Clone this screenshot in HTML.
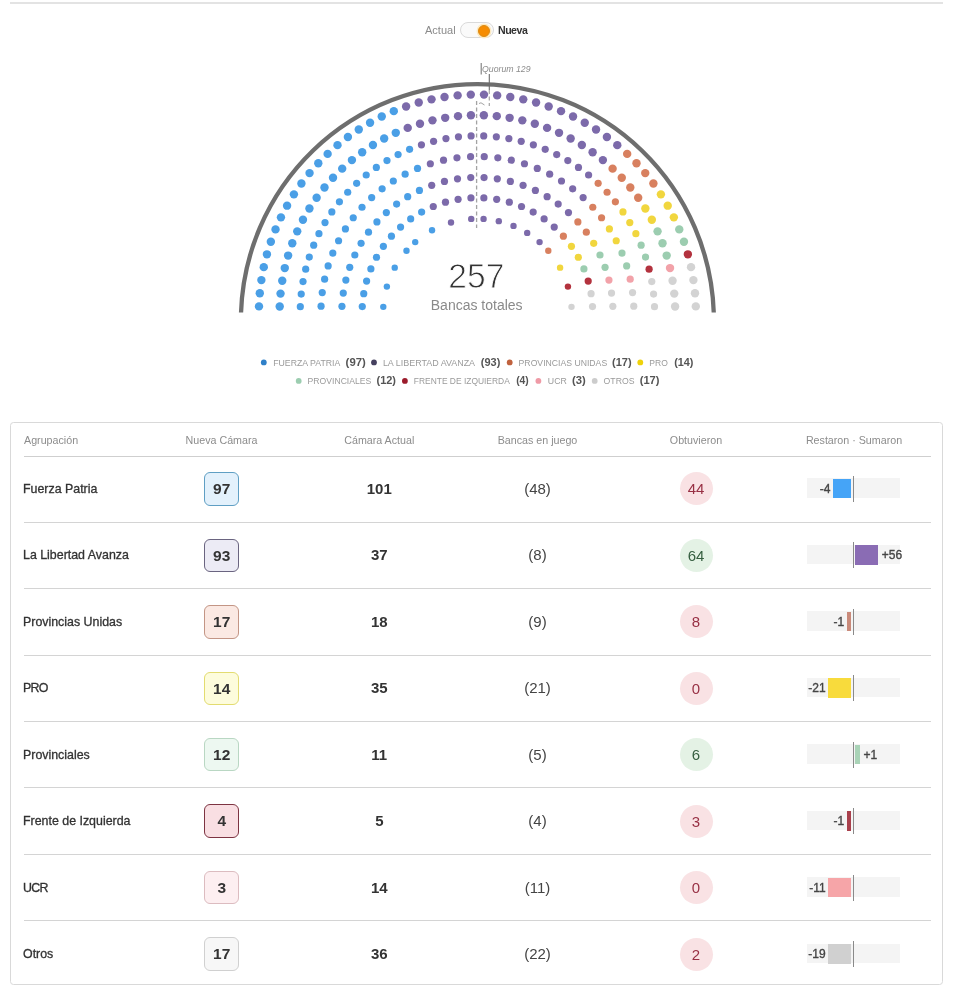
<!DOCTYPE html>
<html lang="es">
<head>
<meta charset="utf-8">
<title>Cámara de Diputados</title>
<style>
*{box-sizing:border-box;margin:0;padding:0}
html,body{width:968px;height:992px;background:#fff;overflow:hidden}
body{position:relative;font-family:"Liberation Sans",Arial,sans-serif;color:#333}
.abs{position:absolute}
.topline{left:10px;top:2px;width:933px;height:2px;background:#e3e3e3}
.tg-lbl{top:23px;font-size:11px;line-height:14px;color:#8a8a8a}
.tg-nv{letter-spacing:-0.5px;font-size:10.6px}
.tg-track{left:460.3px;top:22.2px;width:33.4px;height:16.2px;border:1px solid #dadada;border-radius:8.1px;background:#fafafa}
.tg-knob{left:477.8px;top:24.5px;width:12.2px;height:12.2px;border-radius:50%;background:#f68c00;border:1px solid #dc8a12;box-shadow:0 0 0 1.5px #fdeac2}
.chart{left:0;top:0}
.big{font-weight:300}
.legend{left:0;width:954px;text-align:center;font-size:8.6px;line-height:12px;color:#999;white-space:nowrap}
.legend span.it{display:inline-block;margin:0 3px}
.legend i{display:inline-block;width:5px;height:5px;border-radius:50%;margin-right:7px;vertical-align:1px}
.legend b{color:#555;font-size:11px;margin-left:6px}
.card{left:10.4px;top:421.8px;width:933px;height:563px;border:1.3px solid #d9d9d9;border-radius:3.5px}
.hd{top:434px;font-size:10.7px;line-height:13px;color:#8c8c8c;white-space:nowrap}
.hline{left:24px;width:907px;height:1px;background:#cfcfcf}
.name{left:23px;font-size:12.4px;line-height:16px;color:#333;white-space:nowrap;-webkit-text-stroke:0.3px #333}
.box{width:35px;height:33.5px;border-radius:6px;border:1px solid;font-weight:bold;font-size:15.5px;line-height:32px;text-align:center;color:#333}
.act{width:60px;text-align:center;font-weight:bold;font-size:15px;line-height:18px;color:#333}
.jue{width:60px;text-align:center;font-size:15px;line-height:18px;color:#444}
.obt{width:33px;height:33px;border-radius:50%;text-align:center;font-size:15px;line-height:33px}
.bg{left:807px;width:93px;height:19.5px;background:#f4f4f4}
.zl{left:852.6px;width:1px;height:26px;background:#8a8a8a}
.bar{height:19.5px}
.dl{font-size:12px;line-height:14px;color:#444;white-space:nowrap;-webkit-text-stroke:0.35px #444}
</style>
</head>
<body>
<div class="abs topline"></div>
<div class="abs tg-lbl" style="left:425px">Actual</div>
<div class="abs tg-track"></div>
<div class="abs tg-knob"></div>
<div class="abs tg-lbl tg-nv" style="left:498px;font-weight:bold;color:#333">Nueva</div>

<svg class="abs chart" width="968" height="340" viewBox="0 0 968 340">
<path d="M241.04,312.5 A236.5,236.5 0 0 1 713.76,312.5" fill="none" stroke="#6e6e6e" stroke-width="4.3"/>
<circle cx="259.00" cy="306.40" r="4.2" fill="#4a9fe6"/>
<circle cx="279.71" cy="306.53" r="4.2" fill="#4a9fe6"/>
<circle cx="300.31" cy="306.68" r="3.6" fill="#4a9fe6"/>
<circle cx="321.05" cy="306.17" r="3.6" fill="#4a9fe6"/>
<circle cx="341.96" cy="306.35" r="3.6" fill="#4a9fe6"/>
<circle cx="362.28" cy="306.54" r="3.6" fill="#4a9fe6"/>
<circle cx="383.30" cy="306.83" r="3.2" fill="#4a9fe6"/>
<circle cx="259.80" cy="293.23" r="4.2" fill="#4a9fe6"/>
<circle cx="280.55" cy="293.61" r="4.2" fill="#4a9fe6"/>
<circle cx="301.22" cy="294.06" r="3.6" fill="#4a9fe6"/>
<circle cx="322.24" cy="292.57" r="3.6" fill="#4a9fe6"/>
<circle cx="343.27" cy="293.10" r="3.6" fill="#4a9fe6"/>
<circle cx="261.39" cy="280.12" r="4.2" fill="#4a9fe6"/>
<circle cx="282.24" cy="280.78" r="4.2" fill="#4a9fe6"/>
<circle cx="363.73" cy="293.69" r="3.6" fill="#4a9fe6"/>
<circle cx="303.02" cy="281.54" r="3.6" fill="#4a9fe6"/>
<circle cx="263.77" cy="267.14" r="4.2" fill="#4a9fe6"/>
<circle cx="324.61" cy="279.13" r="3.6" fill="#4a9fe6"/>
<circle cx="284.77" cy="268.08" r="4.2" fill="#4a9fe6"/>
<circle cx="345.86" cy="280.05" r="3.6" fill="#4a9fe6"/>
<circle cx="305.70" cy="269.18" r="3.6" fill="#4a9fe6"/>
<circle cx="266.93" cy="254.33" r="4.2" fill="#4a9fe6"/>
<circle cx="366.61" cy="281.08" r="3.6" fill="#4a9fe6"/>
<circle cx="386.87" cy="286.61" r="3.2" fill="#4a9fe6"/>
<circle cx="288.12" cy="255.58" r="4.2" fill="#4a9fe6"/>
<circle cx="328.14" cy="265.94" r="3.6" fill="#4a9fe6"/>
<circle cx="309.27" cy="257.04" r="3.6" fill="#4a9fe6"/>
<circle cx="270.85" cy="241.72" r="4.2" fill="#4a9fe6"/>
<circle cx="349.73" cy="267.32" r="3.6" fill="#4a9fe6"/>
<circle cx="292.28" cy="243.32" r="4.2" fill="#4a9fe6"/>
<circle cx="275.53" cy="229.38" r="4.2" fill="#4a9fe6"/>
<circle cx="313.69" cy="245.19" r="3.6" fill="#4a9fe6"/>
<circle cx="332.81" cy="253.11" r="3.6" fill="#4a9fe6"/>
<circle cx="370.88" cy="268.88" r="3.6" fill="#4a9fe6"/>
<circle cx="297.23" cy="231.37" r="4.2" fill="#4a9fe6"/>
<circle cx="354.82" cy="255.02" r="3.6" fill="#4a9fe6"/>
<circle cx="280.95" cy="217.35" r="4.2" fill="#4a9fe6"/>
<circle cx="318.94" cy="233.68" r="3.6" fill="#4a9fe6"/>
<circle cx="338.58" cy="240.74" r="3.6" fill="#4a9fe6"/>
<circle cx="302.96" cy="219.76" r="4.2" fill="#4a9fe6"/>
<circle cx="394.72" cy="267.64" r="3.2" fill="#4a9fe6"/>
<circle cx="376.49" cy="257.23" r="3.6" fill="#4a9fe6"/>
<circle cx="287.08" cy="205.66" r="4.2" fill="#4a9fe6"/>
<circle cx="325.01" cy="222.58" r="3.6" fill="#4a9fe6"/>
<circle cx="361.09" cy="243.29" r="3.6" fill="#4a9fe6"/>
<circle cx="309.43" cy="208.55" r="4.2" fill="#4a9fe6"/>
<circle cx="345.41" cy="228.91" r="3.6" fill="#4a9fe6"/>
<circle cx="293.91" cy="194.37" r="4.2" fill="#4a9fe6"/>
<circle cx="331.84" cy="211.94" r="3.6" fill="#4a9fe6"/>
<circle cx="383.37" cy="246.28" r="3.6" fill="#4a9fe6"/>
<circle cx="316.62" cy="197.79" r="4.2" fill="#4a9fe6"/>
<circle cx="301.41" cy="183.50" r="4.2" fill="#4a9fe6"/>
<circle cx="368.49" cy="232.22" r="3.6" fill="#4a9fe6"/>
<circle cx="353.24" cy="217.73" r="3.6" fill="#4a9fe6"/>
<circle cx="339.42" cy="201.81" r="3.6" fill="#4a9fe6"/>
<circle cx="324.50" cy="187.52" r="4.2" fill="#4a9fe6"/>
<circle cx="309.55" cy="173.11" r="4.2" fill="#4a9fe6"/>
<circle cx="406.50" cy="250.82" r="3.2" fill="#4a9fe6"/>
<circle cx="391.43" cy="236.17" r="3.6" fill="#4a9fe6"/>
<circle cx="376.93" cy="221.94" r="3.6" fill="#4a9fe6"/>
<circle cx="362.02" cy="207.27" r="3.6" fill="#4a9fe6"/>
<circle cx="347.71" cy="192.25" r="3.6" fill="#4a9fe6"/>
<circle cx="333.03" cy="177.79" r="4.2" fill="#4a9fe6"/>
<circle cx="318.30" cy="163.23" r="4.2" fill="#4a9fe6"/>
<circle cx="327.63" cy="153.90" r="4.2" fill="#4a9fe6"/>
<circle cx="342.19" cy="168.63" r="4.2" fill="#4a9fe6"/>
<circle cx="356.65" cy="183.31" r="3.6" fill="#4a9fe6"/>
<circle cx="371.67" cy="197.62" r="3.6" fill="#4a9fe6"/>
<circle cx="386.34" cy="212.53" r="3.6" fill="#4a9fe6"/>
<circle cx="400.57" cy="227.03" r="3.6" fill="#4a9fe6"/>
<circle cx="415.22" cy="242.10" r="3.2" fill="#4a9fe6"/>
<circle cx="337.51" cy="145.15" r="4.2" fill="#4a9fe6"/>
<circle cx="351.92" cy="160.10" r="4.2" fill="#4a9fe6"/>
<circle cx="366.21" cy="175.02" r="3.6" fill="#4a9fe6"/>
<circle cx="382.13" cy="188.84" r="3.6" fill="#4a9fe6"/>
<circle cx="396.62" cy="204.09" r="3.6" fill="#4a9fe6"/>
<circle cx="347.90" cy="137.01" r="4.2" fill="#4a9fe6"/>
<circle cx="362.19" cy="152.22" r="4.2" fill="#4a9fe6"/>
<circle cx="410.68" cy="218.97" r="3.6" fill="#4a9fe6"/>
<circle cx="376.34" cy="167.44" r="3.6" fill="#4a9fe6"/>
<circle cx="358.77" cy="129.51" r="4.2" fill="#4a9fe6"/>
<circle cx="393.31" cy="181.01" r="3.6" fill="#4a9fe6"/>
<circle cx="372.95" cy="145.03" r="4.2" fill="#4a9fe6"/>
<circle cx="407.69" cy="196.69" r="3.6" fill="#4a9fe6"/>
<circle cx="386.98" cy="160.61" r="3.6" fill="#4a9fe6"/>
<circle cx="370.06" cy="122.68" r="4.2" fill="#4a9fe6"/>
<circle cx="421.63" cy="212.09" r="3.6" fill="#4a9fe6"/>
<circle cx="432.04" cy="230.32" r="3.2" fill="#4a9fe6"/>
<circle cx="384.16" cy="138.56" r="4.2" fill="#4a9fe6"/>
<circle cx="405.14" cy="174.18" r="3.6" fill="#4a9fe6"/>
<circle cx="398.08" cy="154.54" r="3.6" fill="#4a9fe6"/>
<circle cx="381.75" cy="116.55" r="4.2" fill="#4a9fe6"/>
<circle cx="419.42" cy="190.42" r="3.6" fill="#4a9fe6"/>
<circle cx="395.77" cy="132.83" r="4.2" fill="#4a9fe6"/>
<circle cx="393.78" cy="111.13" r="4.2" fill="#4a9fe6"/>
<circle cx="409.59" cy="149.29" r="3.6" fill="#4a9fe6"/>
<circle cx="417.51" cy="168.41" r="3.6" fill="#4a9fe6"/>
<circle cx="433.28" cy="206.48" r="3.6" fill="#7c6aaa"/>
<circle cx="407.72" cy="127.88" r="4.2" fill="#7c6aaa"/>
<circle cx="431.72" cy="185.33" r="3.6" fill="#7c6aaa"/>
<circle cx="406.12" cy="106.45" r="4.2" fill="#7c6aaa"/>
<circle cx="421.44" cy="144.87" r="3.6" fill="#7c6aaa"/>
<circle cx="430.34" cy="163.74" r="3.6" fill="#7c6aaa"/>
<circle cx="419.98" cy="123.72" r="4.2" fill="#7c6aaa"/>
<circle cx="451.01" cy="222.47" r="3.2" fill="#7c6aaa"/>
<circle cx="445.48" cy="202.21" r="3.6" fill="#7c6aaa"/>
<circle cx="418.73" cy="102.53" r="4.2" fill="#7c6aaa"/>
<circle cx="433.58" cy="141.30" r="3.6" fill="#7c6aaa"/>
<circle cx="444.45" cy="181.46" r="3.6" fill="#7c6aaa"/>
<circle cx="432.48" cy="120.37" r="4.2" fill="#7c6aaa"/>
<circle cx="443.53" cy="160.21" r="3.6" fill="#7c6aaa"/>
<circle cx="431.54" cy="99.37" r="4.2" fill="#7c6aaa"/>
<circle cx="445.94" cy="138.62" r="3.6" fill="#7c6aaa"/>
<circle cx="458.09" cy="199.33" r="3.6" fill="#7c6aaa"/>
<circle cx="445.18" cy="117.84" r="4.2" fill="#7c6aaa"/>
<circle cx="444.52" cy="96.99" r="4.2" fill="#7c6aaa"/>
<circle cx="457.50" cy="178.87" r="3.6" fill="#7c6aaa"/>
<circle cx="456.97" cy="157.84" r="3.6" fill="#7c6aaa"/>
<circle cx="458.46" cy="136.82" r="3.6" fill="#7c6aaa"/>
<circle cx="458.01" cy="116.15" r="4.2" fill="#7c6aaa"/>
<circle cx="457.63" cy="95.40" r="4.2" fill="#7c6aaa"/>
<circle cx="471.23" cy="218.90" r="3.2" fill="#7c6aaa"/>
<circle cx="470.94" cy="197.88" r="3.6" fill="#7c6aaa"/>
<circle cx="470.75" cy="177.56" r="3.6" fill="#7c6aaa"/>
<circle cx="470.57" cy="156.65" r="3.6" fill="#7c6aaa"/>
<circle cx="471.08" cy="135.91" r="3.6" fill="#7c6aaa"/>
<circle cx="470.93" cy="115.31" r="4.2" fill="#7c6aaa"/>
<circle cx="470.80" cy="94.60" r="4.2" fill="#7c6aaa"/>
<circle cx="484.00" cy="94.60" r="4.2" fill="#7c6aaa"/>
<circle cx="483.87" cy="115.31" r="4.2" fill="#7c6aaa"/>
<circle cx="483.72" cy="135.91" r="3.6" fill="#7c6aaa"/>
<circle cx="484.23" cy="156.65" r="3.6" fill="#7c6aaa"/>
<circle cx="484.05" cy="177.56" r="3.6" fill="#7c6aaa"/>
<circle cx="483.86" cy="197.88" r="3.6" fill="#7c6aaa"/>
<circle cx="483.57" cy="218.90" r="3.2" fill="#7c6aaa"/>
<circle cx="497.17" cy="95.40" r="4.2" fill="#7c6aaa"/>
<circle cx="496.79" cy="116.15" r="4.2" fill="#7c6aaa"/>
<circle cx="496.34" cy="136.82" r="3.6" fill="#7c6aaa"/>
<circle cx="497.83" cy="157.84" r="3.6" fill="#7c6aaa"/>
<circle cx="497.30" cy="178.87" r="3.6" fill="#7c6aaa"/>
<circle cx="510.28" cy="96.99" r="4.2" fill="#7c6aaa"/>
<circle cx="509.62" cy="117.84" r="4.2" fill="#7c6aaa"/>
<circle cx="496.71" cy="199.33" r="3.6" fill="#7c6aaa"/>
<circle cx="508.86" cy="138.62" r="3.6" fill="#7c6aaa"/>
<circle cx="523.26" cy="99.37" r="4.2" fill="#7c6aaa"/>
<circle cx="511.27" cy="160.21" r="3.6" fill="#7c6aaa"/>
<circle cx="522.32" cy="120.37" r="4.2" fill="#7c6aaa"/>
<circle cx="498.81" cy="221.16" r="3.2" fill="#7c6aaa"/>
<circle cx="510.35" cy="181.46" r="3.6" fill="#7c6aaa"/>
<circle cx="521.22" cy="141.30" r="3.6" fill="#7c6aaa"/>
<circle cx="536.07" cy="102.53" r="4.2" fill="#7c6aaa"/>
<circle cx="509.32" cy="202.21" r="3.6" fill="#7c6aaa"/>
<circle cx="534.82" cy="123.72" r="4.2" fill="#7c6aaa"/>
<circle cx="524.46" cy="163.74" r="3.6" fill="#7c6aaa"/>
<circle cx="533.36" cy="144.87" r="3.6" fill="#7c6aaa"/>
<circle cx="548.68" cy="106.45" r="4.2" fill="#7c6aaa"/>
<circle cx="523.08" cy="185.33" r="3.6" fill="#7c6aaa"/>
<circle cx="547.08" cy="127.88" r="4.2" fill="#7c6aaa"/>
<circle cx="561.02" cy="111.13" r="4.2" fill="#7c6aaa"/>
<circle cx="545.21" cy="149.29" r="3.6" fill="#7c6aaa"/>
<circle cx="537.29" cy="168.41" r="3.6" fill="#7c6aaa"/>
<circle cx="521.52" cy="206.48" r="3.6" fill="#7c6aaa"/>
<circle cx="513.49" cy="225.88" r="3.2" fill="#7c6aaa"/>
<circle cx="559.03" cy="132.83" r="4.2" fill="#7c6aaa"/>
<circle cx="535.38" cy="190.42" r="3.6" fill="#7c6aaa"/>
<circle cx="573.05" cy="116.55" r="4.2" fill="#7c6aaa"/>
<circle cx="556.72" cy="154.54" r="3.6" fill="#7c6aaa"/>
<circle cx="549.66" cy="174.18" r="3.6" fill="#7c6aaa"/>
<circle cx="570.64" cy="138.56" r="4.2" fill="#7c6aaa"/>
<circle cx="533.17" cy="212.09" r="3.6" fill="#7c6aaa"/>
<circle cx="584.74" cy="122.68" r="4.2" fill="#7c6aaa"/>
<circle cx="567.82" cy="160.61" r="3.6" fill="#7c6aaa"/>
<circle cx="547.11" cy="196.69" r="3.6" fill="#7c6aaa"/>
<circle cx="581.85" cy="145.03" r="4.2" fill="#7c6aaa"/>
<circle cx="527.20" cy="232.92" r="3.2" fill="#7c6aaa"/>
<circle cx="561.49" cy="181.01" r="3.6" fill="#7c6aaa"/>
<circle cx="596.03" cy="129.51" r="4.2" fill="#7c6aaa"/>
<circle cx="578.46" cy="167.44" r="3.6" fill="#7c6aaa"/>
<circle cx="544.12" cy="218.97" r="3.6" fill="#7c6aaa"/>
<circle cx="592.61" cy="152.22" r="4.2" fill="#7c6aaa"/>
<circle cx="606.90" cy="137.01" r="4.2" fill="#7c6aaa"/>
<circle cx="558.18" cy="204.09" r="3.6" fill="#7c6aaa"/>
<circle cx="572.67" cy="188.84" r="3.6" fill="#7c6aaa"/>
<circle cx="588.59" cy="175.02" r="3.6" fill="#7c6aaa"/>
<circle cx="602.88" cy="160.10" r="4.2" fill="#7c6aaa"/>
<circle cx="617.29" cy="145.15" r="4.2" fill="#7c6aaa"/>
<circle cx="539.58" cy="242.10" r="3.2" fill="#7c6aaa"/>
<circle cx="554.23" cy="227.03" r="3.6" fill="#7c6aaa"/>
<circle cx="568.46" cy="212.53" r="3.6" fill="#7c6aaa"/>
<circle cx="583.13" cy="197.62" r="3.6" fill="#7c6aaa"/>
<circle cx="598.15" cy="183.31" r="3.6" fill="#d8805f"/>
<circle cx="612.61" cy="168.63" r="4.2" fill="#d8805f"/>
<circle cx="627.17" cy="153.90" r="4.2" fill="#d8805f"/>
<circle cx="636.50" cy="163.23" r="4.2" fill="#d8805f"/>
<circle cx="621.77" cy="177.79" r="4.2" fill="#d8805f"/>
<circle cx="607.09" cy="192.25" r="3.6" fill="#d8805f"/>
<circle cx="592.78" cy="207.27" r="3.6" fill="#d8805f"/>
<circle cx="577.87" cy="221.94" r="3.6" fill="#d8805f"/>
<circle cx="563.37" cy="236.17" r="3.6" fill="#d8805f"/>
<circle cx="548.30" cy="250.82" r="3.2" fill="#d8805f"/>
<circle cx="645.25" cy="173.11" r="4.2" fill="#d8805f"/>
<circle cx="630.30" cy="187.52" r="4.2" fill="#d8805f"/>
<circle cx="615.38" cy="201.81" r="3.6" fill="#d8805f"/>
<circle cx="601.56" cy="217.73" r="3.6" fill="#d8805f"/>
<circle cx="586.31" cy="232.22" r="3.6" fill="#d8805f"/>
<circle cx="653.39" cy="183.50" r="4.2" fill="#d8805f"/>
<circle cx="638.18" cy="197.79" r="4.2" fill="#d8805f"/>
<circle cx="571.43" cy="246.28" r="3.6" fill="#f1d63e"/>
<circle cx="622.96" cy="211.94" r="3.6" fill="#f1d63e"/>
<circle cx="660.89" cy="194.37" r="4.2" fill="#f1d63e"/>
<circle cx="609.39" cy="228.91" r="3.6" fill="#f1d63e"/>
<circle cx="645.37" cy="208.55" r="4.2" fill="#f1d63e"/>
<circle cx="593.71" cy="243.29" r="3.6" fill="#f1d63e"/>
<circle cx="629.79" cy="222.58" r="3.6" fill="#f1d63e"/>
<circle cx="667.72" cy="205.66" r="4.2" fill="#f1d63e"/>
<circle cx="578.31" cy="257.23" r="3.6" fill="#f1d63e"/>
<circle cx="560.08" cy="267.64" r="3.2" fill="#f1d63e"/>
<circle cx="651.84" cy="219.76" r="4.2" fill="#f1d63e"/>
<circle cx="616.22" cy="240.74" r="3.6" fill="#f1d63e"/>
<circle cx="635.86" cy="233.68" r="3.6" fill="#f1d63e"/>
<circle cx="673.85" cy="217.35" r="4.2" fill="#f1d63e"/>
<circle cx="599.98" cy="255.02" r="3.6" fill="#9ccdb0"/>
<circle cx="657.57" cy="231.37" r="4.2" fill="#9ccdb0"/>
<circle cx="679.27" cy="229.38" r="4.2" fill="#9ccdb0"/>
<circle cx="641.11" cy="245.19" r="3.6" fill="#9ccdb0"/>
<circle cx="621.99" cy="253.11" r="3.6" fill="#9ccdb0"/>
<circle cx="583.92" cy="268.88" r="3.6" fill="#9ccdb0"/>
<circle cx="662.52" cy="243.32" r="4.2" fill="#9ccdb0"/>
<circle cx="605.07" cy="267.32" r="3.6" fill="#9ccdb0"/>
<circle cx="683.95" cy="241.72" r="4.2" fill="#9ccdb0"/>
<circle cx="645.53" cy="257.04" r="3.6" fill="#9ccdb0"/>
<circle cx="626.66" cy="265.94" r="3.6" fill="#9ccdb0"/>
<circle cx="666.68" cy="255.58" r="4.2" fill="#9ccdb0"/>
<circle cx="567.93" cy="286.61" r="3.2" fill="#b3323e"/>
<circle cx="588.19" cy="281.08" r="3.6" fill="#b3323e"/>
<circle cx="687.87" cy="254.33" r="4.2" fill="#b3323e"/>
<circle cx="649.10" cy="269.18" r="3.6" fill="#b3323e"/>
<circle cx="608.94" cy="280.05" r="3.6" fill="#f2a2a9"/>
<circle cx="670.03" cy="268.08" r="4.2" fill="#f2a2a9"/>
<circle cx="630.19" cy="279.13" r="3.6" fill="#f2a2a9"/>
<circle cx="691.03" cy="267.14" r="4.2" fill="#d3d3d3"/>
<circle cx="651.78" cy="281.54" r="3.6" fill="#d3d3d3"/>
<circle cx="591.07" cy="293.69" r="3.6" fill="#d3d3d3"/>
<circle cx="672.56" cy="280.78" r="4.2" fill="#d3d3d3"/>
<circle cx="693.41" cy="280.12" r="4.2" fill="#d3d3d3"/>
<circle cx="611.53" cy="293.10" r="3.6" fill="#d3d3d3"/>
<circle cx="632.56" cy="292.57" r="3.6" fill="#d3d3d3"/>
<circle cx="653.58" cy="294.06" r="3.6" fill="#d3d3d3"/>
<circle cx="674.25" cy="293.61" r="4.2" fill="#d3d3d3"/>
<circle cx="695.00" cy="293.23" r="4.2" fill="#d3d3d3"/>
<circle cx="571.50" cy="306.83" r="3.2" fill="#d3d3d3"/>
<circle cx="592.52" cy="306.54" r="3.6" fill="#d3d3d3"/>
<circle cx="612.84" cy="306.35" r="3.6" fill="#d3d3d3"/>
<circle cx="633.75" cy="306.17" r="3.6" fill="#d3d3d3"/>
<circle cx="654.49" cy="306.68" r="3.6" fill="#d3d3d3"/>
<circle cx="675.09" cy="306.53" r="4.2" fill="#d3d3d3"/>
<circle cx="695.80" cy="306.40" r="4.2" fill="#d3d3d3"/>
<line x1="476.6" y1="101" x2="476.6" y2="228" stroke="#a3a3a3" stroke-width="1.3" stroke-dasharray="4,2.5"/>
<line x1="489.3" y1="90" x2="489.3" y2="106" stroke="#a3a3a3" stroke-width="1.2" stroke-dasharray="4,2.5"/>
<path d="M479,103.5 L481,102.8 L484.5,105" fill="none" stroke="#a3a3a3" stroke-width="1"/>
<line x1="489.3" y1="74" x2="489.3" y2="90" stroke="#6a6a6a" stroke-width="1.1"/>
<line x1="481.2" y1="63" x2="481.2" y2="74.5" stroke="#7a7a7a" stroke-width="1.1"/>
<text x="482" y="72" font-family="Liberation Sans, Arial, sans-serif" font-size="9.4" font-style="italic" fill="#8c8c8c" textLength="48.5" lengthAdjust="spacingAndGlyphs">Quorum 129</text>
<text x="476.3" y="287.8" text-anchor="middle" font-family="Liberation Sans, Arial, sans-serif" font-size="35.5" fill="#333" stroke="#fff" stroke-width="0.9" textLength="56" lengthAdjust="spacingAndGlyphs">257</text>
<text x="476.7" y="310" text-anchor="middle" font-family="Liberation Sans, Arial, sans-serif" font-size="14" fill="#8a8a8a">Bancas totales</text>
</svg>

<svg class="abs" style="left:0;top:340px" width="968" height="60" viewBox="0 340 968 60">
<circle cx="263.8" cy="362.4" r="2.9" fill="#2f80c8"/>
<text x="273.20" y="365.6" font-family="Liberation Sans, Arial, sans-serif" font-size="8.6" fill="#9a9a9a" textLength="67.20" lengthAdjust="spacingAndGlyphs">FUERZA PATRIA</text>
<text x="345.60" y="365.6" font-family="Liberation Sans, Arial, sans-serif" font-size="11" font-weight="bold" fill="#555" textLength="20.20" lengthAdjust="spacingAndGlyphs">(97)</text>
<circle cx="374.0" cy="362.4" r="2.9" fill="#45405f"/>
<text x="382.90" y="365.6" font-family="Liberation Sans, Arial, sans-serif" font-size="8.6" fill="#9a9a9a" textLength="92.20" lengthAdjust="spacingAndGlyphs">LA LIBERTAD AVANZA</text>
<text x="480.80" y="365.6" font-family="Liberation Sans, Arial, sans-serif" font-size="11" font-weight="bold" fill="#555" textLength="19.50" lengthAdjust="spacingAndGlyphs">(93)</text>
<circle cx="509.7" cy="362.4" r="2.9" fill="#c0623e"/>
<text x="518.60" y="365.6" font-family="Liberation Sans, Arial, sans-serif" font-size="8.6" fill="#9a9a9a" textLength="88.60" lengthAdjust="spacingAndGlyphs">PROVINCIAS UNIDAS</text>
<text x="612.00" y="365.6" font-family="Liberation Sans, Arial, sans-serif" font-size="11" font-weight="bold" fill="#555" textLength="19.70" lengthAdjust="spacingAndGlyphs">(17)</text>
<circle cx="640.3" cy="362.4" r="2.9" fill="#efd20a"/>
<text x="649.30" y="365.6" font-family="Liberation Sans, Arial, sans-serif" font-size="8.6" fill="#9a9a9a" textLength="18.50" lengthAdjust="spacingAndGlyphs">PRO</text>
<text x="674.20" y="365.6" font-family="Liberation Sans, Arial, sans-serif" font-size="11" font-weight="bold" fill="#555" textLength="19.30" lengthAdjust="spacingAndGlyphs">(14)</text>
<circle cx="298.7" cy="380.9" r="2.9" fill="#9ccdb0"/>
<text x="307.60" y="384.20000000000005" font-family="Liberation Sans, Arial, sans-serif" font-size="8.6" fill="#9a9a9a" textLength="63.70" lengthAdjust="spacingAndGlyphs">PROVINCIALES</text>
<text x="376.50" y="384.20000000000005" font-family="Liberation Sans, Arial, sans-serif" font-size="11" font-weight="bold" fill="#555" textLength="19.50" lengthAdjust="spacingAndGlyphs">(12)</text>
<circle cx="404.9" cy="380.9" r="2.9" fill="#9b1b2b"/>
<text x="413.80" y="384.20000000000005" font-family="Liberation Sans, Arial, sans-serif" font-size="8.6" fill="#9a9a9a" textLength="96.00" lengthAdjust="spacingAndGlyphs">FRENTE DE IZQUIERDA</text>
<text x="516.20" y="384.20000000000005" font-family="Liberation Sans, Arial, sans-serif" font-size="11" font-weight="bold" fill="#555" textLength="12.60" lengthAdjust="spacingAndGlyphs">(4)</text>
<circle cx="538.4" cy="380.9" r="2.9" fill="#ef9aa6"/>
<text x="547.80" y="384.20000000000005" font-family="Liberation Sans, Arial, sans-serif" font-size="8.6" fill="#9a9a9a" textLength="19.00" lengthAdjust="spacingAndGlyphs">UCR</text>
<text x="572.00" y="384.20000000000005" font-family="Liberation Sans, Arial, sans-serif" font-size="11" font-weight="bold" fill="#555" textLength="13.80" lengthAdjust="spacingAndGlyphs">(3)</text>
<circle cx="594.7" cy="380.9" r="2.9" fill="#cccccc"/>
<text x="603.60" y="384.20000000000005" font-family="Liberation Sans, Arial, sans-serif" font-size="8.6" fill="#9a9a9a" textLength="30.90" lengthAdjust="spacingAndGlyphs">OTROS</text>
<text x="639.70" y="384.20000000000005" font-family="Liberation Sans, Arial, sans-serif" font-size="11" font-weight="bold" fill="#555" textLength="19.80" lengthAdjust="spacingAndGlyphs">(17)</text>
</svg>

<div class="abs card"></div>
<div class="abs hd" style="left:24px">Agrupación</div>
<div class="abs hd" style="left:161.5px;width:120px;text-align:center">Nueva Cámara</div>
<div class="abs hd" style="left:319.3px;width:120px;text-align:center">Cámara Actual</div>
<div class="abs hd" style="left:477.5px;width:120px;text-align:center">Bancas en juego</div>
<div class="abs hd" style="left:636px;width:120px;text-align:center">Obtuvieron</div>
<div class="abs hd" style="left:794px;width:120px;text-align:center">Restaron · Sumaron</div>
<div class="abs hline" style="top:456px"></div>
<div class="abs name" style="top:480.8px">Fuerza Patria</div>
<div class="abs box" style="left:204.2px;top:472.1px;background:#e3f1fc;border-color:#5f9fc4">97</div>
<div class="abs act" style="left:349.3px;top:479.8px">101</div>
<div class="abs jue" style="left:507.5px;top:479.8px">(48)</div>
<div class="abs obt" style="left:679.5px;top:472.3px;background:#f9e2e4;color:#983044">44</div>
<div class="abs bg" style="top:478.3px"></div>
<div class="abs bar" style="left:832.8px;width:18.4px;top:478.8px;background:#45a4f7"></div>
<div class="abs dl" style="right:137.7px;top:481.8px">-4</div>
<div class="abs zl" style="top:475.8px"></div>
<div class="abs hline" style="top:521.8px;background:#d4d4d4"></div>
<div class="abs name" style="top:547.3px">La Libertad Avanza</div>
<div class="abs box" style="left:204.2px;top:538.6px;background:#ecebf5;border-color:#6a6480">93</div>
<div class="abs act" style="left:349.3px;top:546.3px">37</div>
<div class="abs jue" style="left:507.5px;top:546.3px">(8)</div>
<div class="abs obt" style="left:679.5px;top:538.8px;background:#e4f2e5;color:#355e3f">64</div>
<div class="abs bg" style="top:544.8px"></div>
<div class="abs bar" style="left:855.3px;width:23.0px;top:545.3px;background:#8a6cb4"></div>
<div class="abs dl" style="left:881.8px;top:548.3px">+56</div>
<div class="abs zl" style="top:542.3px"></div>
<div class="abs hline" style="top:588.2px;background:#d4d4d4"></div>
<div class="abs name" style="top:613.7px">Provincias Unidas</div>
<div class="abs box" style="left:204.2px;top:605.0px;background:#fbe9e3;border-color:#c39585">17</div>
<div class="abs act" style="left:349.3px;top:612.7px">18</div>
<div class="abs jue" style="left:507.5px;top:612.7px">(9)</div>
<div class="abs obt" style="left:679.5px;top:605.2px;background:#f9e2e4;color:#983044">8</div>
<div class="abs bg" style="top:611.2px"></div>
<div class="abs bar" style="left:846.6px;width:4.6px;top:611.7px;background:#c98a7a"></div>
<div class="abs dl" style="right:123.9px;top:614.7px">-1</div>
<div class="abs zl" style="top:608.7px"></div>
<div class="abs hline" style="top:654.6px;background:#d4d4d4"></div>
<div class="abs name" style="top:680.2px;letter-spacing:-0.7px">PRO</div>
<div class="abs box" style="left:204.2px;top:671.5px;background:#fdfcdc;border-color:#e3dc70">14</div>
<div class="abs act" style="left:349.3px;top:679.2px">35</div>
<div class="abs jue" style="left:507.5px;top:679.2px">(21)</div>
<div class="abs obt" style="left:679.5px;top:671.7px;background:#f9e2e4;color:#983044">0</div>
<div class="abs bg" style="top:677.7px"></div>
<div class="abs bar" style="left:828.2px;width:23.0px;top:678.2px;background:#f8db3c"></div>
<div class="abs dl" style="right:142.3px;top:681.2px">-21</div>
<div class="abs zl" style="top:675.2px"></div>
<div class="abs hline" style="top:721.0px;background:#d4d4d4"></div>
<div class="abs name" style="top:746.6px">Provinciales</div>
<div class="abs box" style="left:204.2px;top:737.9px;background:#edf8f1;border-color:#b9d7c3">12</div>
<div class="abs act" style="left:349.3px;top:745.6px">11</div>
<div class="abs jue" style="left:507.5px;top:745.6px">(5)</div>
<div class="abs obt" style="left:679.5px;top:738.1px;background:#e4f2e5;color:#355e3f">6</div>
<div class="abs bg" style="top:744.1px"></div>
<div class="abs bar" style="left:855.3px;width:4.6px;top:744.6px;background:#a9d3b7"></div>
<div class="abs dl" style="left:863.4px;top:747.6px">+1</div>
<div class="abs zl" style="top:741.6px"></div>
<div class="abs hline" style="top:787.4px;background:#d4d4d4"></div>
<div class="abs name" style="top:813.1px">Frente de Izquierda</div>
<div class="abs box" style="left:204.2px;top:804.4px;background:#f9dfe3;border-color:#7d3442">4</div>
<div class="abs act" style="left:349.3px;top:812.1px">5</div>
<div class="abs jue" style="left:507.5px;top:812.1px">(4)</div>
<div class="abs obt" style="left:679.5px;top:804.6px;background:#f9e2e4;color:#983044">3</div>
<div class="abs bg" style="top:810.6px"></div>
<div class="abs bar" style="left:846.6px;width:4.6px;top:811.1px;background:#a8404c"></div>
<div class="abs dl" style="right:123.9px;top:814.1px">-1</div>
<div class="abs zl" style="top:808.1px"></div>
<div class="abs hline" style="top:853.8px;background:#d4d4d4"></div>
<div class="abs name" style="top:879.6px;letter-spacing:-0.7px">UCR</div>
<div class="abs box" style="left:204.2px;top:870.9px;background:#fdeff1;border-color:#dcbcc0">3</div>
<div class="abs act" style="left:349.3px;top:878.6px">14</div>
<div class="abs jue" style="left:507.5px;top:878.6px">(11)</div>
<div class="abs obt" style="left:679.5px;top:871.1px;background:#f9e2e4;color:#983044">0</div>
<div class="abs bg" style="top:877.1px"></div>
<div class="abs bar" style="left:828.2px;width:23.0px;top:877.6px;background:#f6a5a8"></div>
<div class="abs dl" style="right:142.3px;top:880.6px">-11</div>
<div class="abs zl" style="top:874.6px"></div>
<div class="abs hline" style="top:920.2px;background:#d4d4d4"></div>
<div class="abs name" style="top:946.0px">Otros</div>
<div class="abs box" style="left:204.2px;top:937.3px;background:#f7f7f7;border-color:#d0d0d0">17</div>
<div class="abs act" style="left:349.3px;top:945.0px">36</div>
<div class="abs jue" style="left:507.5px;top:945.0px">(22)</div>
<div class="abs obt" style="left:679.5px;top:937.5px;background:#f9e2e4;color:#983044">2</div>
<div class="abs bg" style="top:943.5px"></div>
<div class="abs bar" style="left:828.2px;width:23.0px;top:944.0px;background:#d0d0d0"></div>
<div class="abs dl" style="right:142.3px;top:947.0px">-19</div>
<div class="abs zl" style="top:941.0px"></div>
</body>
</html>
